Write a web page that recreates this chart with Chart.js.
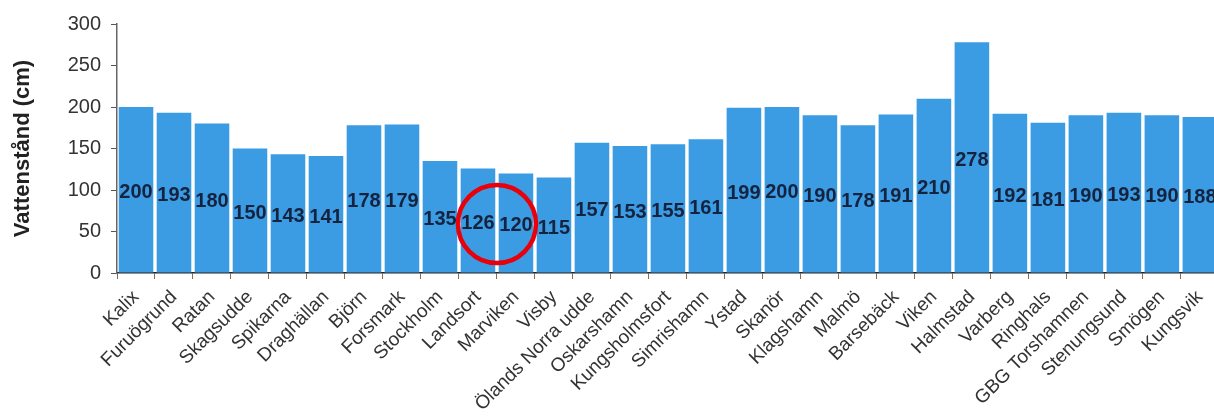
<!DOCTYPE html>
<html>
<head>
<meta charset="utf-8">
<script src="https://cdn.jsdelivr.net/npm/chart.js@4"></script>
<style>
  html, body { margin: 0; padding: 0; background: #fff; overflow: hidden; }
  #wrap { width: 1223px; height: 416px; }
</style>
</head>
<body>
<div id="wrap"><canvas id="chart"></canvas></div>
<script>
const stations = ["Kalix", "Furuögrund", "Ratan", "Skagsudde", "Spikarna", "Draghällan", "Björn", "Forsmark",
  "Stockholm", "Landsort", "Marviken", "Visby", "Ölands Norra udde", "Oskarshamn", "Kungsholmsfort",
  "Simrishamn", "Ystad", "Skanör", "Klagshamn", "Malmö", "Barsebäck", "Viken", "Halmstad", "Varberg",
  "Ringhals", "GBG Torshamnen", "Stenungsund", "Smögen", "Kungsvik"];
const levels = [200, 193, 180, 150, 143, 141, 178, 179, 135, 126, 120, 115, 157, 153, 155,
  161, 199, 200, 190, 178, 191, 210, 278, 192, 181, 190, 193, 190, 188];
const yTicks = [0, 50, 100, 150, 200, 250, 300];
// red ring sits between Landsort and Marviken
const ringBetween = [9, 10];
const ringLevel = 59;

const FONT = "Arial, 'Liberation Sans', sans-serif";

// value labels in the middle of each bar
const barLabels = {
  id: "barLabels",
  afterDatasetsDraw(chart) {
    const ctx = chart.ctx;
    const meta = chart.getDatasetMeta(0);
    ctx.save();
    ctx.font = "bold 20px " + FONT;
    ctx.fillStyle = "#15233f";
    ctx.textAlign = "center";
    ctx.textBaseline = "middle";
    meta.data.forEach((bar, i) => {
      ctx.fillText(String(levels[i]), bar.x, (bar.y + bar.base) / 2 + 3);
    });
    ctx.restore();
  }
};

const redRing = {
  id: "redRing",
  afterDraw(chart) {
    const x = chart.scales.x, y = chart.scales.y;
    const cx = (x.getPixelForValue(ringBetween[0]) + x.getPixelForValue(ringBetween[1])) / 2;
    const cy = y.getPixelForValue(ringLevel);
    const ctx = chart.ctx;
    ctx.save();
    ctx.strokeStyle = "#e8000b";
    ctx.lineWidth = 4.5;
    ctx.beginPath();
    ctx.arc(cx, cy, 39, 0, Math.PI * 2);
    ctx.stroke();
    ctx.restore();
  }
};

new Chart(document.getElementById("chart"), {
  type: "bar",
  data: {
    labels: stations,
    datasets: [{
      data: levels,
      backgroundColor: "#3b9be3",
      borderWidth: 0,
      barPercentage: 0.91,
      categoryPercentage: 1
    }]
  },
  options: {
    responsive: true,
    maintainAspectRatio: false,
    animation: false,
    layout: { padding: { top: 24, right: 0, left: 0, bottom: 0 } },
    plugins: { legend: { display: false }, tooltip: { enabled: false } },
    scales: {
      x: {
        afterFit(axis) { axis.height = 143; },
        grid: { display: true, drawOnChartArea: false, drawTicks: true, tickLength: 6, color: "#8a6a4a", offset: true },
        border: { display: true, color: "#222", width: 1.5 },
        ticks: {
          color: "#333",
          font: { family: FONT, size: 19 },
          maxRotation: 45,
          minRotation: 45,
          autoSkip: false,
          padding: 7
        }
      },
      y: {
        min: 0,
        max: 300,
        afterBuildTicks(axis) { axis.ticks = yTicks.map(v => ({ value: v })); },
        afterFit(axis) { axis.width = 117; },
        grid: { display: true, drawOnChartArea: false, drawTicks: true, tickLength: 6, color: "#555" },
        border: { display: true, color: "#666", width: 1.5 },
        ticks: {
          color: "#333",
          font: { family: FONT, size: 20 },
          padding: 10
        },
        title: {
          display: true,
          text: "Vattenstånd (cm)",
          color: "#222",
          font: { family: FONT, size: 22, weight: "bold" },
          padding: { top: 10, bottom: 0 }
        }
      }
    }
  },
  plugins: [barLabels, redRing]
});
</script>
</body>
</html>
